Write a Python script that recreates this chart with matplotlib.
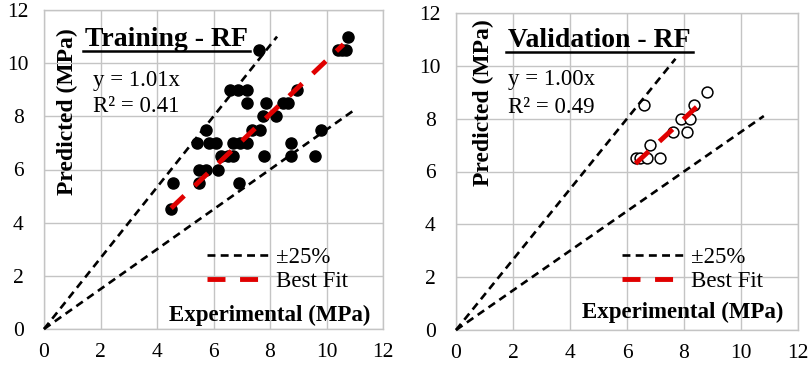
import matplotlib
matplotlib.use("Agg")
import matplotlib.pyplot as plt
from matplotlib.lines import Line2D
import numpy as np

plt.rcParams['font.family'] = ['Liberation Serif', 'DejaVu Serif']

# Training - RF (experimental, predicted)
train_x = [4.5, 4.55, 5.5, 6.9,
           5.5, 5.75, 6.15,
           6.25, 6.5, 6.7, 7.8, 8.75, 9.6,
           5.4, 5.85, 6.1, 6.7, 6.95, 7.2, 8.75,
           5.75, 7.35, 7.65, 9.8,
           7.75, 8.2,
           7.2, 7.85, 8.45, 8.65,
           6.6, 6.85, 7.2, 8.95,
           7.6, 10.4, 10.55, 10.7,
           10.75]
train_y = [4.5, 5.5, 5.5, 5.5,
           6.0, 6.0, 6.0,
           6.5, 6.5, 6.5, 6.5, 6.5, 6.5,
           7.0, 7.0, 7.0, 7.0, 7.0, 7.0, 7.0,
           7.5, 7.5, 7.5, 7.5,
           8.0, 8.0,
           8.5, 8.5, 8.5, 8.5,
           9.0, 9.0, 9.0, 9.0,
           10.5, 10.5, 10.5, 10.5,
           11.0]

# Validation - RF
val_x = [6.3, 6.45, 6.7, 7.15, 6.8, 7.6, 8.1, 7.9, 8.2, 6.6, 8.35, 8.8]
val_y = [6.5, 6.5, 6.5, 6.5, 7.0, 7.5, 7.5, 8.0, 8.0, 8.5, 8.5, 9.0]

# fitted slopes / stats
train_slope, train_r2 = 1.01, 0.41
val_slope, val_r2 = 1.00, 0.49
train_fit_range = [4.5, 10.6]
val_fit_range = [6.3, 8.5]
# +-25% band: upper (x/0.75) and lower (0.75x) extents in x
train_band_x = [8.25, 10.95]
val_band_x = [7.7, 10.8]

ticks = [0, 2, 4, 6, 8, 10, 12]
grey = '#c4c4c4'
red = '#e00000'

fig = plt.figure(figsize=(8.09, 3.71), dpi=100)
ax1 = fig.add_axes([44/809, 1-329/371, 339/809, 319/371])
ax2 = fig.add_axes([456/809, 1-330/371, 342/809, 317/371])


def panel(ax, xs, ys, slope, r2, fit_rng, band_x, title, filled, tpos, eqpos,
          ylpos, xlpos, legpos):
    ax.set_xlim(0, 12)
    ax.set_ylim(0, 12)
    ax.set_xticks(ticks)
    ax.set_yticks(ticks)
    ax.grid(True, color=grey, lw=1)
    ax.set_axisbelow(True)
    for s in ax.spines.values():
        s.set_color(grey)
        s.set_linewidth(1)
    ax.tick_params(length=0, labelsize=15.5, pad=10)
    ax.tick_params(axis='y', pad=18.5)
    for lab in ax.get_yticklabels():
        lab.set_horizontalalignment('center')

    if filled:
        ax.plot(xs, ys, 'o', color='black', ms=8, zorder=2, clip_on=False)
    else:
        ax.plot(xs, ys, 'o', mfc='white', mec='black', mew=1.1, ms=7.8,
                zorder=2, clip_on=False)

    bx_up = np.array([0, band_x[0]])
    bx_lo = np.array([0, band_x[1]])
    ax.plot(bx_up, bx_up / 0.75, color='black', lw=1.9, dashes=(3.0, 2.0),
            zorder=3, clip_on=False)
    ax.plot(bx_lo, bx_lo * 0.75, color='black', lw=1.9, dashes=(3.0, 2.0),
            zorder=3, clip_on=False)
    fx = np.array(fit_rng)
    ax.plot(fx, fx * slope, color=red, lw=3.5, dashes=(3.7, 3.0),
            solid_capstyle='butt', zorder=4)

    t = ax.text(tpos[0], tpos[1], title, transform=ax.transAxes,
                fontsize=20, fontweight='bold', ha='left', va='baseline')
    ax.text(eqpos[0], eqpos[1], f'y = {slope:.2f}x', transform=ax.transAxes,
            fontsize=16.5, ha='left', va='center')
    ax.text(eqpos[0], eqpos[2], f'R\u00b2 = {r2:.2f}', transform=ax.transAxes,
            fontsize=16.5, ha='left', va='center')
    ax.text(ylpos[0], ylpos[1], 'Predicted (MPa)', transform=ax.transAxes,
            rotation=90, fontsize=17, fontweight='bold', ha='center',
            va='center')
    ax.text(xlpos[0], xlpos[1], 'Experimental (MPa)', transform=ax.transAxes,
            fontsize=16.5, fontweight='bold', ha='right', va='center')

    handles = [Line2D([], [], color='black', lw=1.9, dashes=(3.0, 2.0)),
               Line2D([], [], color=red, lw=3.5, dashes=(3.7, 3.0))]
    ax.legend(handles, ['\u00b125%', 'Best Fit'], loc='upper left',
              bbox_to_anchor=legpos, frameon=False, fontsize=16.5,
              handlelength=2.7, handletextpad=0.3, labelspacing=0.15,
              borderpad=0, borderaxespad=0)
    return t


t1 = panel(ax1, train_x, train_y, train_slope, train_r2, train_fit_range,
           train_band_x, 'Training - RF', True, (0.12, 0.887),
           (0.145, 0.78, 0.696), (0.068, 0.68), (0.962, 0.044), (0.481, 0.258))
t2 = panel(ax2, val_x, val_y, val_slope, val_r2, val_fit_range,
           val_band_x, 'Validation - RF', False, (0.152, 0.893),
           (0.152, 0.789, 0.703), (0.079, 0.716), (0.956, 0.054), (0.485, 0.262))

# underline titles
fig.canvas.draw()
r = fig.canvas.get_renderer()
for t in (t1, t2):
    bb = t.get_window_extent(r)
    y = bb.y0 + 1
    fig.add_artist(Line2D([bb.x0 - 2, bb.x1 + 2], [y, y], color='black',
                          lw=1.8, transform=None))

fig.savefig('out.png', dpi=100)
